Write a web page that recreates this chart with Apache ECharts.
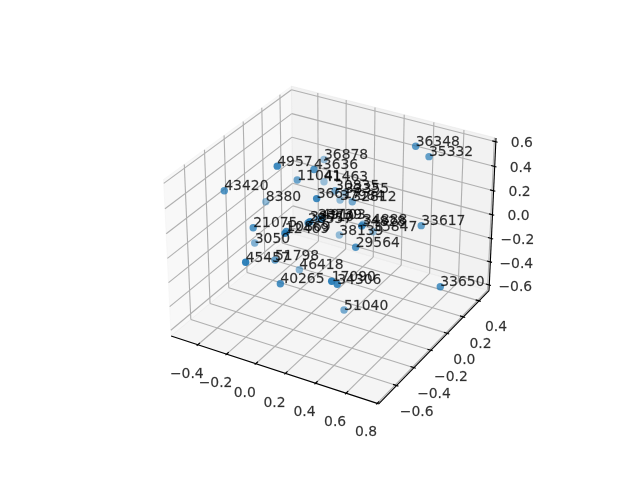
<!DOCTYPE html>
<html><head><meta charset="utf-8"><script src="https://cdn.jsdelivr.net/npm/echarts@6/dist/echarts.min.js"></script>
<style>html,body{margin:0;background:#fff}#c{width:640px;height:480px}</style></head><body><div id="c"></div>
<script>
var xTicks=[-0.4,-0.2,0,0.2,0.4,0.6,0.8], yTicks=[-0.6,-0.4,-0.2,0,0.2,0.4], zTicks=[-0.6,-0.4,-0.2,0,0.2,0.4,0.6];
var xLim=[-0.588,0.81], yLim=[-0.8,0.53], zLim=[-0.65,0.63];
var labels=["36348","35332","36878","4957","43636","11041","41463","43420","30835","33355","8380","36617","37984","32812","33739","38710","49103","28557","34828","34888","35847","38139","29564","33617","21075","12469","10869","3050","45457","51798","46418","40265","17090","34306","51040","33650"];
var xs=[0.424,0.552,-0.259,-0.148,0.055,-0.102,-0.225,-0.283,0.053,-0.097,-0.448,0.243,-0.061,0.157,-0.044,0.284,0.337,0.120,0.488,0.195,0.160,-0.012,0.439,0.636,-0.089,0.181,0.132,-0.334,-0.079,-0.044,-0.117,0.149,0.482,0.501,0.274,0.768];
var ys=[0.269,0.196,0.370,-0.317,-0.250,-0.180,0.314,-0.653,-0.016,0.347,0.012,-0.526,0.230,0.005,-0.049,-0.662,-0.626,-0.420,-0.451,0.066,0.246,0.141,-0.432,-0.033,-0.662,-0.755,-0.664,-0.286,-0.760,-0.515,-0.143,-0.760,-0.760,-0.733,-0.280,-0.028];
var zs=[0.592,0.592,0.207,0.592,0.592,0.415,0.063,0.555,0.280,-0.010,0.004,0.592,0.014,0.212,0.034,0.512,0.528,0.292,0.416,0.002,-0.189,-0.210,0.218,0.205,0.335,0.444,0.383,-0.117,0.126,-0.004,-0.358,0.038,0.181,0.146,-0.461,-0.252];
var shade=[.72,.68,.42,.85,.76,.64,.42,.76,.6,.42,.46,.85,.46,.6,.55,.85,.85,.72,.8,.55,.46,.46,.76,.68,.76,.85,.8,.55,.92,.68,.5,.8,.92,.85,.6,.76];

var az=-60*Math.PI/180, el=30*Math.PI/180, dist=10;
var box=[1.19048,1.19048,0.89286];
var w=[Math.cos(el)*Math.cos(az),Math.cos(el)*Math.sin(az),Math.sin(el)];
var E=[box[0]/2+dist*w[0],box[1]/2+dist*w[1],box[2]/2+dist*w[2]];
var un=Math.hypot(w[1],w[0]); var u=[-w[1]/un,w[0]/un,0];
var v=[w[1]*u[2]-w[2]*u[1],w[2]*u[0]-w[0]*u[2],w[0]*u[1]-w[1]*u[0]];
function dot(a,b){return a[0]*b[0]+a[1]*b[1]+a[2]*b[2];}
function proj(x,y,z){
  var p=[(x-xLim[0])/(xLim[1]-xLim[0])*box[0]-E[0],(y-yLim[0])/(yLim[1]-yLim[0])*box[1]-E[1],(z-zLim[0])/(zLim[1]-zLim[0])*box[2]-E[2]];
  var d=-dot(w,p); return [dot(u,p)/d,dot(v,p)/d,d];
}
var X0=xLim[0],X1=xLim[1],Y0=yLim[0],Y1=yLim[1],Z0=zLim[0],Z1=zLim[1];
function seg(a,b){var p=proj(a[0],a[1],a[2]),q=proj(b[0],b[1],b[2]);return [p[0],p[1],q[0],q[1]];}
var grid=[],axes=[],ticks=[],tl=[];
xTicks.forEach(function(t){grid.push(seg([t,Y0,Z0],[t,Y1,Z0]));grid.push(seg([t,Y1,Z0],[t,Y1,Z1]));
  var d=(Y1-Y0)/12;ticks.push(seg([t,Y0-0.1*d,Z0],[t,Y0+0.2*d,Z0]));var p=proj(t,Y0,Z0);tl.push({value:[p[0],p[1]],t:t,o:[-11,29.5]});});
yTicks.forEach(function(t){grid.push(seg([X0,t,Z0],[X1,t,Z0]));grid.push(seg([X0,t,Z0],[X0,t,Z1]));
  var d=(X1-X0)/12;ticks.push(seg([X1+0.1*d,t,Z0],[X1-0.2*d,t,Z0]));var p=proj(X1,t,Z0);tl.push({value:[p[0],p[1]],t:t,o:[t<0?20:17,27]});});
zTicks.forEach(function(t){grid.push(seg([X0,Y0,t],[X0,Y1,t]));grid.push(seg([X0,Y1,t],[X1,Y1,t]));
  var d=(X1-X0)/12;ticks.push(seg([X1+0.1*d,Y1,t],[X1-0.2*d,Y1,t]));var p=proj(X1,Y1,t);tl.push({value:[p[0],p[1]],t:t,o:[26,2]});});
axes=[seg([X0,Y0,Z0],[X1,Y0,Z0]),seg([X1,Y0,Z0],[X1,Y1,Z0]),seg([X1,Y1,Z0],[X1,Y1,Z1])];
function poly(pts){var r=[];pts.forEach(function(a){var p=proj(a[0],a[1],a[2]);r.push(p[0],p[1]);});return r;}
var panes=[
 {d:poly([[X0,Y0,Z0],[X0,Y1,Z0],[X0,Y1,Z1],[X0,Y0,Z1]]),c:'rgba(242,242,242,0.5)'},
 {d:poly([[X0,Y1,Z0],[X1,Y1,Z0],[X1,Y1,Z1],[X0,Y1,Z1]]),c:'rgba(230,230,230,0.5)'},
 {d:poly([[X0,Y0,Z0],[X1,Y0,Z0],[X1,Y1,Z0],[X0,Y1,Z0]]),c:'rgba(236,236,236,0.5)'}];
function lineSeries(data,color,width,z){return {type:'custom',coordinateSystem:'cartesian2d',clip:false,silent:true,z:z,data:data,encode:{x:[0,2],y:[1,3]},
 renderItem:function(p,api){var a=api.coord([api.value(0),api.value(1)]),b=api.coord([api.value(2),api.value(3)]);
  return {type:'line',shape:{x1:a[0],y1:a[1],x2:b[0],y2:b[1]},style:{stroke:color,lineWidth:width,fill:null}};}};}
var paneSeries=panes.map(function(P){return {type:'custom',coordinateSystem:'cartesian2d',clip:false,silent:true,z:1,data:[P.d],encode:{x:[0,2,4,6],y:[1,3,5,7]},
 renderItem:function(p,api){var pts=[];for(var k=0;k<4;k++)pts.push(api.coord([api.value(2*k),api.value(2*k+1)]));
  return {type:'polygon',shape:{points:pts},style:{fill:P.c,stroke:P.c,lineWidth:1}};}};});
var font={fontFamily:'DejaVu Sans',fontSize:13.9,color:'#000',textBorderColor:'rgba(0,0,0,0.55)',textBorderWidth:0.3};
var tickLabelSeries={type:'scatter',z:5,silent:true,symbolSize:1,itemStyle:{color:'rgba(0,0,0,0)'},clip:false,
 data:tl.map(function(d){return {value:d.value,label:Object.assign({show:true,position:'inside',align:'center',verticalAlign:'middle',offset:d.o,formatter:(d.t<0?'\u2212':'')+Math.abs(d.t).toFixed(1)},font)};})};
var order=labels.map(function(_,i){return i;}).sort(function(a,b){return shade[a]-shade[b];});
var ptSeries={type:'scatter',z:6,silent:true,symbolSize:7.4,clip:false,data:order.map(function(i){var p=proj(xs[i],ys[i],zs[i]);return {value:[p[0],p[1]],itemStyle:{color:'#1f77b4',opacity:shade[i]}};})};
var lblSeries={type:'scatter',z:7,silent:true,symbolSize:1,clip:false,itemStyle:{color:'rgba(0,0,0,0)'},
 data:labels.map(function(l,i){var p=proj(xs[i],ys[i],zs[i]);return {value:[p[0],p[1]],label:Object.assign({show:true,position:'inside',align:'left',verticalAlign:'bottom',offset:[0,3],formatter:l},font)};})};
var chart=echarts.init(document.getElementById('c'),null,{renderer:'canvas'});
chart.setOption({animation:false,backgroundColor:'#fff',
 grid:{left:143.2,top:57.6,width:369.6,height:369.6},
 xAxis:{type:'value',min:-0.095,max:0.09,show:false},yAxis:{type:'value',min:-0.095,max:0.09,show:false},
 series:paneSeries.concat([lineSeries(grid,'#b0b0b0',1.11,2),lineSeries(axes,'#000',1.11,3),lineSeries(ticks,'#000',1.11,3),tickLabelSeries,ptSeries,lblSeries])});
</script></body></html>
